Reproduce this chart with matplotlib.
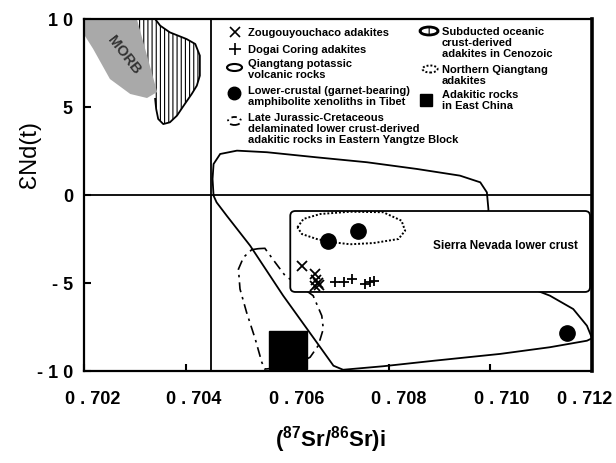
import matplotlib
matplotlib.use('Agg')
import matplotlib.pyplot as plt
from matplotlib.patches import Polygon, Ellipse, FancyBboxPatch
from matplotlib.transforms import ScaledTranslation

plt.rcParams['font.family'] = ['Liberation Sans', 'DejaVu Sans']
plt.rcParams['mathtext.default'] = 'regular'
plt.rcParams['hatch.linewidth'] = 0.8

# MORB field (grey)
morb_x = [0.70200, 0.70304, 0.70344, 0.70324, 0.70291, 0.70251, 0.70218, 0.70202]
morb_y = [10.0, 10.0, 5.85, 5.51, 5.74, 6.59, 8.30, 9.03]

# subducted oceanic crust-derived adakites (hatched field)
sub_x = [0.70340, 0.70350, 0.70369, 0.70402, 0.70419, 0.70428, 0.70428, 0.70422,
         0.70412, 0.70396, 0.70383, 0.70369, 0.70356, 0.70346, 0.70342, 0.70340]
sub_y = [10.0, 9.62, 9.24, 8.86, 8.58, 7.92, 6.78, 6.21,
         5.74, 5.07, 4.51, 4.13, 4.03, 4.32, 4.89, 5.46]

# Qiangtang potassic volcanic rocks
pot_x = [0.70455, 0.70468, 0.70501, 0.70560, 0.70658, 0.70757, 0.70855, 0.70940,
         0.70980, 0.70993, 0.70996, 0.70996, 0.71058, 0.71117, 0.71163, 0.71190,
         0.71200, 0.71190, 0.71117, 0.71019, 0.70888, 0.70789, 0.70710, 0.70691,
         0.70658, 0.70592, 0.70527, 0.70481, 0.70461, 0.70455, 0.70453]
pot_y = [1.76, 2.33, 2.52, 2.43, 2.14, 1.86, 1.48, 1.10,
         0.72, 0.15, -0.80, -2.50, -5.06, -5.72, -6.48, -7.43,
         -8.14, -8.28, -8.65, -9.03, -9.42, -9.73, -9.93, -9.70,
         -8.37, -5.72, -2.88, -1.18, -0.42, -0.04, 0.91]

# Late Jurassic-Cretaceous delaminated lower crust-derived adakitic rocks
lj_x = [0.70543, 0.70556, 0.70576, 0.70596, 0.70625, 0.70651, 0.70668, 0.70671,
        0.70661, 0.70645, 0.70606, 0.70556, 0.70550, 0.70537, 0.70520, 0.70507,
        0.70504, 0.70514, 0.70530]
lj_y = [-3.05, -3.03, -3.82, -4.59, -5.17, -5.72, -6.86, -7.61,
        -8.56, -9.22, -9.77, -9.89, -9.51, -8.18, -6.67, -5.34,
        -4.21, -3.54, -3.11]

# Northern Qiangtang adakites
nq_x = [0.70620, 0.70632, 0.70665, 0.70724, 0.70789, 0.70825, 0.70832,
        0.70819, 0.70770, 0.70724, 0.70691, 0.70658, 0.70629]
nq_y = [-1.84, -1.36, -1.08, -0.95, -0.98, -1.46, -2.03,
        -2.50, -2.73, -2.80, -2.69, -2.50, -2.22]

# Sierra Nevada lower crust box
sn_x0, sn_x1 = 0.70606, 0.71196
sn_y0, sn_y1 = -5.51, -0.91

# point data
lc_x = [0.70680, 0.70739, 0.71151]
lc_y = [-2.61, -2.05, -7.84]
zg_x = [0.70629, 0.70655, 0.70657, 0.70661, 0.70655, 0.70663]
zg_y = [-4.03, -4.49, -4.83, -5.00, -5.17, -5.11]
dg_x = [0.70694, 0.70712, 0.70728, 0.70753, 0.70763, 0.70771]
dg_y = [-4.94, -4.94, -4.77, -5.06, -4.94, -4.89]
ec_x = [0.70601]
ec_y = [-8.81]

xticks = [0.702, 0.704, 0.706, 0.708, 0.710, 0.712]
xlabels = ['0 . 702', '0 . 704', '0 . 706', '0 . 708', '0 . 710', '0 . 712']
yticks = [10, 5, 0, -5, -10]
ylabels = ['1 0', '5', '0', '- 5', '- 1 0']

fig = plt.figure(figsize=(6.16, 4.64), dpi=100)
ax = fig.add_axes([0.1364, 0.1983, 0.8247, 0.7586])
ax.set_xlim(0.702, 0.712)
ax.set_ylim(-10, 10)

# reference lines
ax.axhline(0, color='black', lw=1.3, zorder=2)
ax.axvline(0.7045, color='black', lw=1.3, zorder=2)

# MORB and hatched field
ax.add_patch(Polygon(list(zip([0.70304] + sub_x, [10.0] + sub_y)), closed=True,
                     facecolor='white', edgecolor='black', hatch='||||', lw=0, zorder=1))
ax.plot(sub_x, sub_y, color='black', lw=1.3, zorder=3)
ax.add_patch(Polygon(list(zip(morb_x, morb_y)), closed=True, facecolor='#a9a9a9',
                     edgecolor='none', zorder=2))
ax.text(0.70279, 8.0, 'MORB', rotation=-52, ha='center', va='center',
        fontsize=10.5, fontweight='bold', color='#333333', zorder=3)

# fields
ax.add_patch(Polygon(list(zip(pot_x, pot_y)), closed=True, facecolor='none',
                     edgecolor='black', lw=1.3, zorder=2))
ax.add_patch(Polygon(list(zip(lj_x, lj_y)), closed=True, facecolor='none',
                     edgecolor='black', lw=1.2, linestyle=(0, (6, 3, 1.5, 3)), zorder=2))

box = FancyBboxPatch((sn_x0, sn_y0), sn_x1 - sn_x0, sn_y1 - sn_y0,
                     boxstyle='round,pad=0,rounding_size=0.0001', mutation_aspect=2800,
                     facecolor='white', edgecolor='black', lw=1.3, zorder=3)
ax.add_patch(box)
ax.text(0.71029, -2.84, 'Sierra Nevada lower crust', ha='center', va='center',
        fontsize=8.5, fontweight='bold', zorder=4)

ax.add_patch(Polygon(list(zip(nq_x, nq_y)), closed=True, facecolor='none',
                     edgecolor='black', lw=1.4, linestyle=(0, (1, 1)), zorder=4))

ax.plot(lc_x, lc_y, 'o', color='black', ms=11, zorder=5)
ax.plot(zg_x, zg_y, 'x', color='black', ms=6.5, mew=1.3, zorder=5)
ax.plot(dg_x, dg_y, '+', color='black', ms=7, mew=1.3, zorder=5)
ax.plot(ec_x, ec_y, 's', color='black', ms=28, zorder=5)


# legend (hand-placed, pixel positions converted to axes fraction)
def a(px, py):
    return (px - 84) / 508, (372 - py) / 352


tr = ax.transAxes
fs = 8
ax.plot(*a(235, 33), 'x', color='black', ms=7, mew=1.2, transform=tr)
ax.plot(*a(235, 50), '+', color='black', ms=8, mew=1.2, transform=tr)
ax.add_patch(Ellipse(a(234.5, 68.5), 15 / 508, 7 / 352, transform=tr,
                     facecolor='none', edgecolor='black', lw=1.5))
ax.plot(*a(234, 94), 'o', color='black', ms=9, transform=tr)
ax.add_patch(Ellipse(a(234.5, 122), 13 / 508, 8 / 352, transform=tr, facecolor='none',
                     edgecolor='black', lw=1.3, linestyle=(0, (3, 2, 1, 2))))
ax.add_patch(Ellipse(a(429, 32), 18 / 508, 8 / 352, transform=tr, facecolor='white',
                     edgecolor='black', lw=2, hatch='||'))
ax.add_patch(Ellipse(a(430, 70), 15 / 508, 7 / 352, transform=tr, facecolor='none',
                     edgecolor='black', lw=1.4, linestyle=(0, (1, 1))))
ax.plot(*a(426, 101), 's', color='black', ms=9, transform=tr)

left_lines = [(33, 'Zougouyouchaco adakites'), (50, 'Dogai Coring adakites'),
              (64, 'Qiangtang potassic'), (75, 'volcanic rocks'),
              (91, 'Lower-crustal (garnet-bearing)'), (102, 'amphibolite xenoliths in Tibet'),
              (118, 'Late Jurassic-Cretaceous'), (129, 'delaminated lower crust-derived'),
              (140, 'adakitic rocks in Eastern Yangtze Block')]
right_lines = [(32, 'Subducted oceanic'), (43, 'crust-derived'), (54, 'adakites in Cenozoic'),
               (70, 'Northern Qiangtang'), (81, 'adakites'),
               (95, 'Adakitic rocks'), (106, 'in East China')]
for py, s in left_lines:
    ax.text(*a(248, py), s, transform=tr, ha='left', va='center', fontsize=fs,
            fontweight='bold')
for py, s in right_lines:
    ax.text(*a(442, py), s, transform=tr, ha='left', va='center', fontsize=fs,
            fontweight='bold')

# axes styling
ax.set_xticks(xticks)
ax.set_xticklabels(xlabels, fontweight='bold')
ax.set_yticks(yticks)
ax.set_yticklabels(ylabels, fontweight='bold')
ax.tick_params(axis='x', direction='in', length=5, width=1.5, labelsize=13, pad=14)
ax.tick_params(axis='y', direction='in', length=5, width=1.5, labelsize=13, pad=8)
for lab, dx in zip(ax.get_xticklabels(), [6.5, 6, 7, 7, 8, -5]):
    lab.set_transform(lab.get_transform() + ScaledTranslation(dx / 72, 0, fig.dpi_scale_trans))
for sp in ax.spines.values():
    sp.set_linewidth(1.6)
ax.spines['right'].set_linewidth(2.6)

fig.text(0.536, 0.052, r'($^{87}$Sr/$^{86}$Sr)i', ha='center', va='center',
         fontsize=16, fontweight='bold')
fig.text(0.049, 0.666, 'ƐNd(t)', rotation=90, ha='center', va='center', fontsize=17)

fig.savefig('out.png', dpi=100)
